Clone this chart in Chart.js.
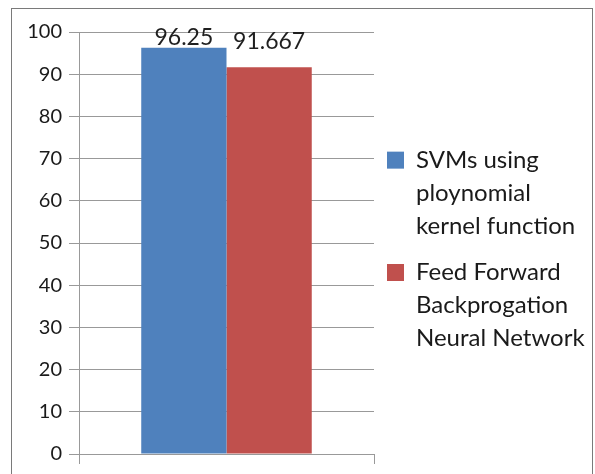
<!DOCTYPE html>
<html>
<head>
<meta charset="utf-8">
<script src="https://cdn.jsdelivr.net/npm/chart.js@4/dist/chart.umd.min.js"></script>
<style>
  html, body { margin: 0; padding: 0; background: #fff; overflow: hidden; }
  #frame { position: absolute; left: 11px; top: 8px; width: 582px; height: 480px; border: 1px solid #7a7a7a; box-sizing: border-box; pointer-events: none; }
  canvas { position: absolute; left: 0; top: 0; }
</style>
</head>
<body>
<canvas id="chart" width="595" height="474"></canvas>
<div id="frame"></div>
<script>
const categories = [''];
const seriesNames = ['SVMs using ploynomial kernel function', 'Feed Forward Backprogation Neural Network'];
const legendLines = [
  ['SVMs using', 'ploynomial', 'kernel function'],
  ['Feed Forward', 'Backprogation', 'Neural Network'],
];
const svmValues = [96.25];
const ffbnnValues = [91.667];
const valueLabels = ['96.25', '91.667'];
const labelLift = [3, 18];

const barLabels = {
  id: 'barLabels',
  afterDatasetsDraw(chart) {
    const { ctx } = chart;
    ctx.save();
    ctx.font = '23px Lato';
    ctx.fillStyle = '#1f1f1f';
    ctx.textAlign = 'center';
    ctx.textBaseline = 'alphabetic';
    chart.data.datasets.forEach((dataset, index) => {
      chart.getDatasetMeta(index).data.forEach((bar) => {
        ctx.fillText(valueLabels[index], bar.x, bar.y - labelLift[index]);
      });
    });
    ctx.restore();
  },
};

// the legend under-measures multi-line labels, so give it a fixed width
const legendWidth = {
  id: 'legendWidth',
  beforeLayout(chart) {
    const legend = chart.legend;
    if (legend && !legend._fixedWidth) {
      const fit = legend.fit;
      legend.fit = function () {
        fit.call(this);
        this.width = 221;
      };
      legend._fixedWidth = true;
    }
  },
  afterLayout(chart) {
    chart.legend.top += 6;
    chart.legend.bottom += 6;
  },
};

new Chart(document.getElementById('chart'), {
  type: 'bar',
  data: {
    labels: categories,
    datasets: [
      { label: seriesNames[0], data: svmValues, backgroundColor: '#4F81BD' },
      { label: seriesNames[1], data: ffbnnValues, backgroundColor: '#C0504D' },
    ],
  },
  options: {
    responsive: false,
    devicePixelRatio: 1,
    animation: false,
    layout: { padding: { top: 32, bottom: 10, left: 0, right: 0 } },
    datasets: { bar: { categoryPercentage: 0.578, barPercentage: 1 } },
    scales: {
      x: {
        grid: { offset: true, drawOnChartArea: false, drawTicks: true, tickLength: 10, color: '#999', lineWidth: 1 },
        border: { color: '#999', width: 1 },
        ticks: { display: false },
      },
      y: {
        min: 0,
        max: 100,
        afterFit: (axis) => { axis.width = 79; },
        ticks: { stepSize: 10, padding: 7, color: '#1a1a1a', font: { family: 'Lato', size: 20 } },
        grid: { color: '#999', lineWidth: 1, tickLength: 10 },
        border: { color: '#999', width: 1 },
      },
    },
    plugins: {
      tooltip: { enabled: false },
      legend: {
        position: 'right',
        align: 'center',
        labels: {
          boxWidth: 17,
          boxHeight: 17,
          padding: 13,
          color: '#1a1a1a',
          font: { family: 'Lato', size: 24, lineHeight: 1.38 },
          generateLabels: (chart) => Chart.defaults.plugins.legend.labels.generateLabels(chart)
            .map((item, index) => ({ ...item, text: legendLines[index], lineWidth: 0 })),
        },
      },
    },
  },
  plugins: [legendWidth, barLabels],
});
</script>
</body>
</html>
